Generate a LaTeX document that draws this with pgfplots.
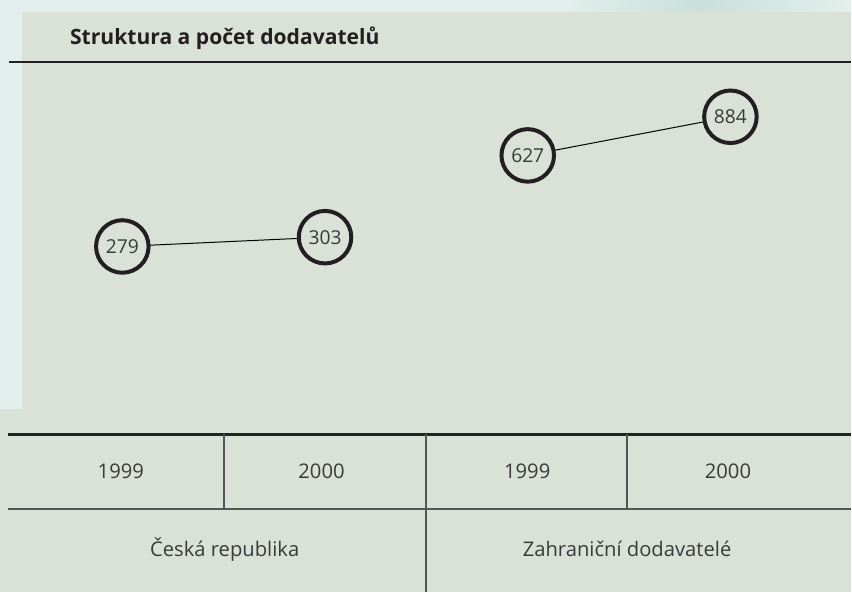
\documentclass[border=0pt]{standalone}
\usepackage{pgfplots}
\pgfplotsset{compat=1.18}
\usepackage{fontspec}
\setmainfont{Open Sans}
\definecolor{bg}{HTML}{DAE1D7}
\definecolor{pale}{HTML}{E3EFEC}
\definecolor{teal}{HTML}{C9E0DA}
\definecolor{txt}{HTML}{3A3A3A}
\definecolor{ttl}{HTML}{231F20}
\definecolor{rule}{HTML}{222222}
\definecolor{grid}{HTML}{555555}
\begin{document}
\begin{tikzpicture}[x=1bp,y=1bp]
% background
\fill[bg] (0,0) rectangle (852,593);
\fill[pale] (0,183) rectangle (22,593);
\fill[pale] (0,581) rectangle (852,593);
\shade[left color=pale, right color=teal] (560,581) rectangle (700,593);
\shade[left color=teal, right color=pale] (700,581) rectangle (852,593);
% title
\node[anchor=base west, inner sep=0pt, text=ttl, font=\fontsize{21.2}{25}\selectfont\bfseries] at (70,548) {Struktura a počet dodavatelů};
\draw[rule, line width=2bp] (9,531) -- (852,531);
% table
\draw[rule, line width=2.5bp] (8,158) -- (852,158);
\draw[grid, line width=1.8bp] (224,158) -- (224,83);
\draw[grid, line width=1.8bp] (427,158) -- (427,0);
\draw[grid, line width=1.8bp] (628,158) -- (628,83);
\draw[grid, line width=1.5bp] (8,83) -- (852,83);
\begin{scope}[every node/.style={text=txt, font=\fontsize{20.3}{24}\selectfont, inner sep=0pt}]
\node at (121,121) {1999};
\node at (322,121) {2000};
\node at (528,121) {1999};
\node at (729,121) {2000};
\node at (225,43) {Česká republika};
\node at (628,43) {Zahraniční dodavatelé};
\end{scope}
\begin{axis}[
  at={(21bp,158bp)}, anchor=south west,
  scale only axis, width=812bp, height=373bp,
  xmin=-0.5, xmax=3.5,
  ymode=log, ymin=52.5, ymax=1440,
  axis lines=none, ticks=none, clip=false,
  point meta=explicit symbolic,
  nodes near coords,
  every node near coord/.style={anchor=center, inner sep=0pt, text=txt, font=\fontsize{19.3}{22}\selectfont},
]
\addplot[black, line width=1bp, mark=*, mark size=26.3bp,
  mark options={fill=bg, draw=ttl, line width=4bp}]
  coordinates {(0,279)[279] (1,303)[303]};
\addplot[black, line width=1bp, mark=*, mark size=26.3bp,
  mark options={fill=bg, draw=ttl, line width=4bp}]
  coordinates {(2,627)[627] (3,884)[884]};
\end{axis}
\end{tikzpicture}
\end{document}
